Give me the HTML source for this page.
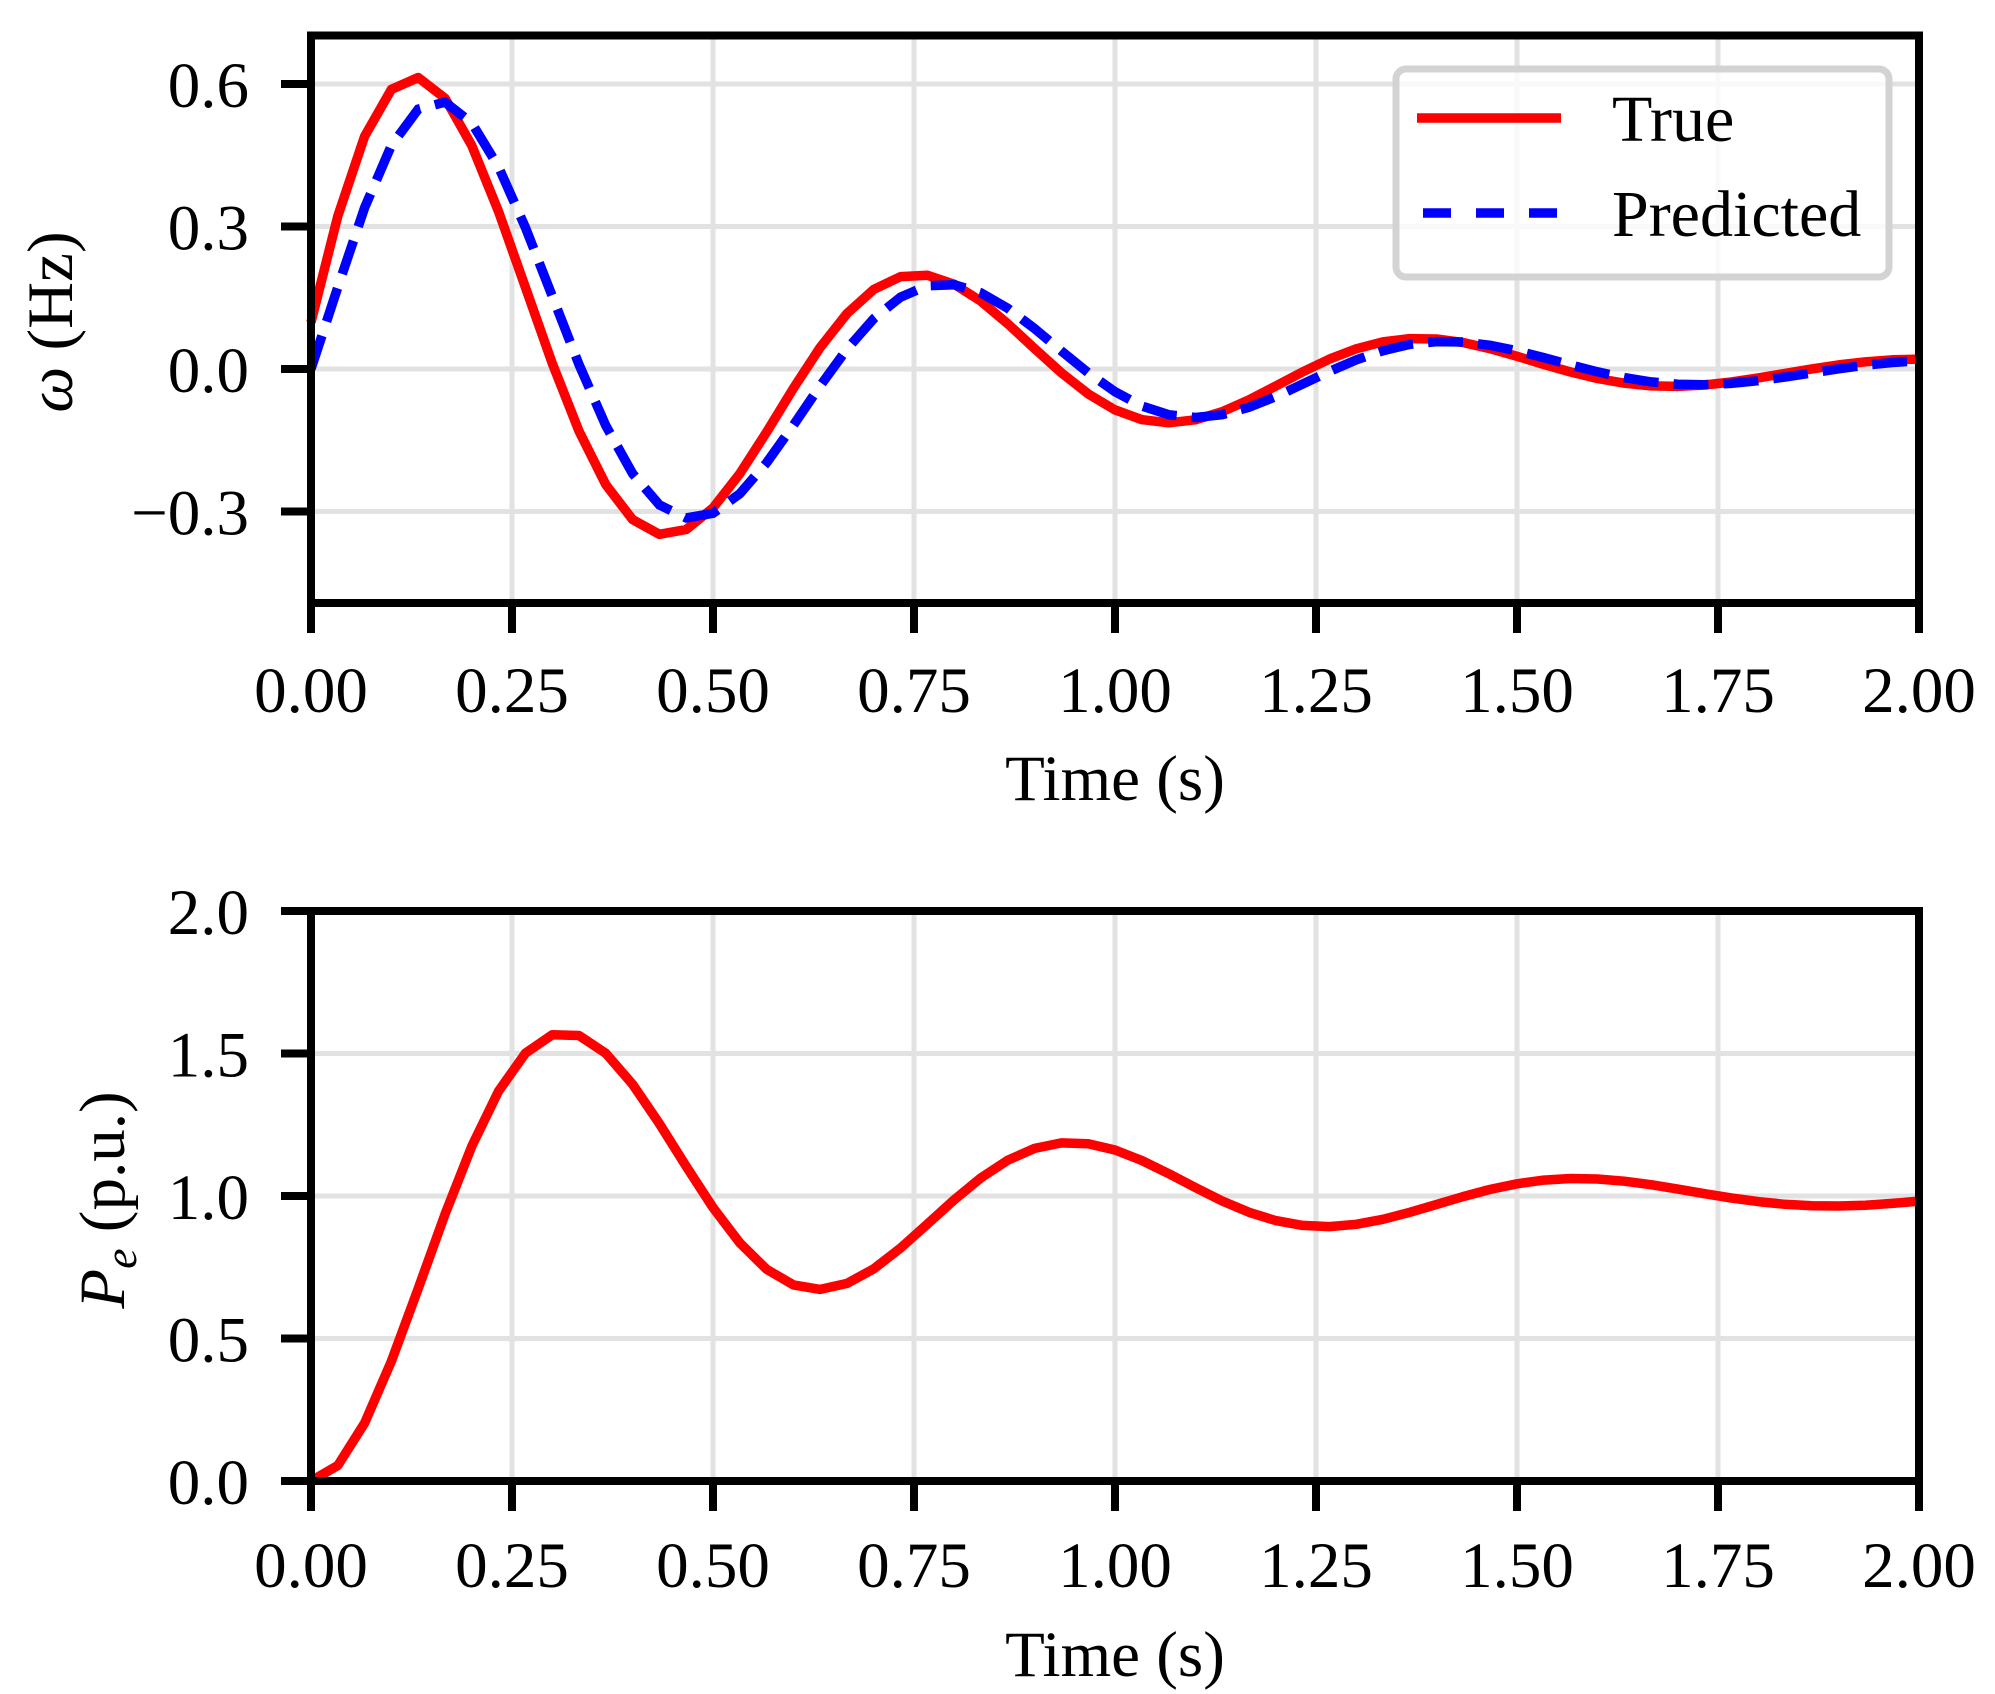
<!DOCTYPE html>
<html><head><meta charset="utf-8"><style>
html,body{margin:0;padding:0;background:#fff;}
svg{display:block;}
text{font-family:"Liberation Serif","DejaVu Serif",serif;fill:#000;}
</style></head><body>
<svg id="s" width="1995" height="1694" viewBox="0 0 1995 1694" xmlns="http://www.w3.org/2000/svg">
<rect width="1995" height="1694" fill="#fff"/>
<g id="g"></g>
</svg>
<script>
const NS="http://www.w3.org/2000/svg";
const g=document.getElementById('g');
function el(t,a,txt){const e=document.createElementNS(NS,t);for(const k in a)e.setAttribute(k,a[k]);if(txt!==undefined)e.textContent=txt;g.appendChild(e);return e;}
const L=311,R=1919;
const X=t=>L+(R-L)*t/2;
const T1=35.5,B1=603;const Y1=v=>369-v*475;
const T2=911,B2=1481;const Y2=v=>B2-(B2-T2)*v/2;
function grid(T,B,yt,Y){
  for(let i=0;i<=8;i++){const x=X(i*0.25);el('line',{x1:x,y1:T,x2:x,y2:B,stroke:'#e2e2e2','stroke-width':5});}
  yt.forEach(v=>el('line',{x1:L,y1:Y(v),x2:R,y2:Y(v),stroke:'#e2e2e2','stroke-width':5}));
}
function axes(T,B,yt,Y,lab,xlabY,tickY){
  el('rect',{x:L,y:T,width:R-L,height:B-T,fill:'none',stroke:'#000','stroke-width':8});
  for(let i=0;i<=8;i++){const x=X(i*0.25);el('line',{x1:x,y1:B,x2:x,y2:B+30,stroke:'#000','stroke-width':8});
    el('text',{x:x,y:tickY,'font-size':65,'text-anchor':'middle'},(i*0.25).toFixed(2));}
  yt.forEach((v,j)=>{el('line',{x1:L-30,y1:Y(v),x2:L,y2:Y(v),stroke:'#000','stroke-width':8});
    el('text',{x:249,y:Y(v)+23,'font-size':65,'text-anchor':'end'},lab[j]);});
  el('text',{x:(L+R)/2,y:xlabY,'font-size':65,'text-anchor':'middle'},'Time (s)');
}
const yt1=[-0.3,0,0.3,0.6],yt2=[0,0.5,1,1.5,2];
grid(T1,B1,yt1,Y1);grid(T2,B2,yt2,Y2);
function poly(f,Y,attrs){let p=[];for(let i=0;i<=60;i++){const t=i/30;p.push(X(t).toFixed(1)+','+Y(f(t)).toFixed(1));}
  el('polyline',Object.assign({points:p.join(' '),fill:'none'},attrs));}
const w=10.05,s=1.8;
const tru=t=>0.785*Math.exp(-s*t)*Math.sin(w*t+0.1)+0.02*Math.exp(-t/0.05);
const pred=t=>0.75*Math.exp(-s*t)*Math.sin(w*t-0.23)+0.171*Math.exp(-t/0.06);
poly(tru,Y1,{stroke:'#ff0000','stroke-width':9.5,'stroke-linejoin':'round'});
poly(pred,Y1,{stroke:'#0000ff','stroke-width':9.5,'stroke-dasharray':'35 15'});
const w2=9.97,s2=1.77;
const pe=t=>1-Math.exp(-s2*t)*(Math.cos(w2*t)+(s2/w2)*Math.sin(w2*t));
poly(pe,Y2,{stroke:'#ff0000','stroke-width':9.5,'stroke-linejoin':'round'});
axes(T1,B1,yt1,Y1,['\u22120.3','0.0','0.3','0.6'],800,712);
axes(T2,B2,yt2,Y2,['0.0','0.5','1.0','1.5','2.0'],1676,1587);
el('rect',{x:1396,y:69,width:493,height:208,rx:10,fill:'#fff','fill-opacity':0.8,stroke:'#d3d3d3','stroke-width':7});
el('line',{x1:1417,y1:118,x2:1561,y2:118,stroke:'#ff0000','stroke-width':9.5});
el('line',{x1:1423,y1:213,x2:1557,y2:213,stroke:'#0000ff','stroke-width':9.5,'stroke-dasharray':'28 25'});
el('text',{x:1612,y:141,'font-size':66},'True');
el('text',{x:1612,y:236,'font-size':66},'Predicted');
const yl1=el('text',{x:0,y:0,'font-size':65,'text-anchor':'middle',transform:'translate(72,322) rotate(-90)'});
yl1.innerHTML='<tspan font-style="italic">ω</tspan> (Hz)';
const yl2=el('text',{x:0,y:0,'font-size':65,'text-anchor':'middle',transform:'translate(124,1200) rotate(-90)'});
yl2.innerHTML='<tspan font-style="italic">P</tspan><tspan font-style="italic" font-size="46" dy="12">e</tspan><tspan dy="-12"> (p.u.)</tspan>';
</script>
</body></html>
